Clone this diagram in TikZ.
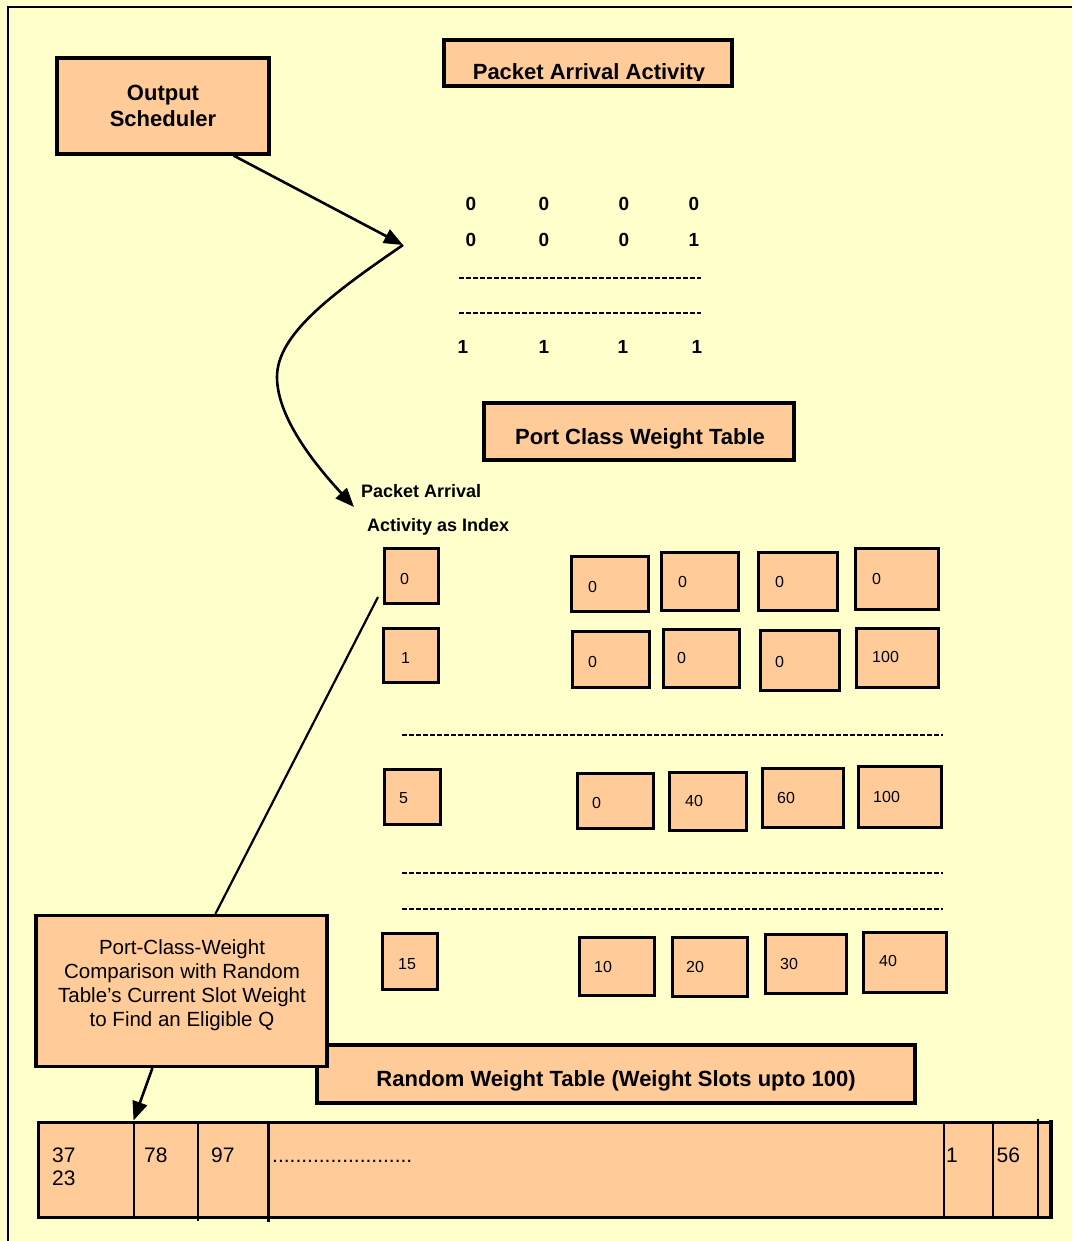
\documentclass[tikz,border=0pt]{standalone}
\usepackage{fontspec}
\setmainfont{Liberation Sans}
\usetikzlibrary{arrows.meta,calc}
\definecolor{bgy}{HTML}{FFFFCC}
\definecolor{peach}{HTML}{FFCC99}
\newcommand\cellbox[8]{%
  \node[cell, minimum width={#4-#2-2.5}, minimum height={#5-#3-2.5}] (#1) at ({(#2+#4)/2},{(#3+#5)/2}) {};
  \node[ctext] (#1t) at (#7,#8) {#6};
}
\begin{document}
\begin{tikzpicture}[x=1pt,y=-1pt,
  box/.style={draw=black, fill=peach, line width=3.2pt, inner sep=0pt},
  cell/.style={draw=black, fill=peach, line width=3pt, inner sep=0pt},
  hdr/.style={font=\fontsize{22}{26.5}\selectfont\bfseries, inner sep=0pt},
  lbl/.style={font=\fontsize{18}{20}\selectfont\bfseries, inner sep=0pt},
  mnum/.style={font=\fontsize{19}{20}\selectfont\bfseries, inner sep=0pt},
  ctext/.style={font=\fontsize{16}{16}\selectfont, inner sep=0pt, anchor=west},
  ttext/.style={font=\fontsize{21}{21}\selectfont, inner sep=0pt, anchor=base west},
  ptext/.style={font=\fontsize{20.5}{24}\selectfont, inner sep=0pt, align=center},
  arr/.style={line width=2.6pt, -{Triangle[length=19pt,width=15pt]}},
  mdash/.style={line width=2.5pt, dash pattern=on 5pt off 2pt},
  ldash/.style={line width=1.5pt, dash pattern=on 5pt off 2pt},
  tline/.style={line width=2.4pt}]
\fill[bgy] (0,0) rectangle (1072,1241);
\useasboundingbox (0,0) rectangle (1072,1241);
\draw[line width=2.5pt] (8,1241) -- (8,7) -- (1072,7);

% headers
\node[box, hdr, align=center, minimum width=212, minimum height=96] (os) at (163,106) {Output\\Scheduler};
\node[box, minimum width=288, minimum height=46] (paa) at (588,63) {};
\begin{scope}
  \clip (445,41) rectangle (731,81);
  \node[hdr, anchor=base] (paat) at (589,79.5) {Packet Arrival Activity};
\end{scope}
\node[box, minimum width=310, minimum height=57] (pcwt) at (639,431.5) {};
\node[hdr, anchor=base] (pcwtt) at (640,444) {Port Class Weight Table};

% matrix
\node[mnum] (m11) at (471,204) {0};
\node[mnum] (m12) at (544,204) {0};
\node[mnum] (m13) at (624,204) {0};
\node[mnum] (m14) at (694,204) {0};
\node[mnum] (m21) at (471,240) {0};
\node[mnum] (m22) at (544,240) {0};
\node[mnum] (m23) at (624,240) {0};
\node[mnum] (m24) at (694,240) {1};
\node[mnum] (m31) at (463,347) {1};
\node[mnum] (m32) at (544,347) {1};
\node[mnum] (m33) at (623,347) {1};
\node[mnum] (m34) at (697,347) {1};
\draw[mdash] (459,278) -- (701,278);
\draw[mdash] (459,313) -- (701,313);

% labels
\node[lbl, anchor=base west] (pa1) at (361,497.5) {Packet Arrival};
\node[lbl, anchor=base west] (pa2) at (367,531.5) {Activity as Index};

% index and weight cells
\cellbox{iA}{383}{547}{440}{605}{0}{400}{579}
\cellbox{iB}{382}{627}{440}{684}{1}{401}{658}
\cellbox{iC}{383}{768}{442}{826}{5}{399}{798}
\cellbox{iD}{381}{932}{439}{991}{15}{398}{964}

\cellbox{wAa}{570}{555}{650}{613}{0}{588}{587}
\cellbox{wAb}{660}{551}{740}{612}{0}{678}{582}
\cellbox{wAc}{757}{551}{839}{612}{0}{775}{582}
\cellbox{wAd}{854}{547}{940}{611}{0}{872}{579}

\cellbox{wBa}{571}{630}{651}{689}{0}{588}{662}
\cellbox{wBb}{662}{628}{741}{689}{0}{677}{658}
\cellbox{wBc}{759}{629}{841}{692}{0}{775}{662}
\cellbox{wBd}{855}{627}{940}{689}{100}{872}{657}

\cellbox{wCa}{576}{772}{655}{830}{0}{592}{803}
\cellbox{wCb}{668}{771}{748}{832}{40}{685}{801}
\cellbox{wCc}{761}{767}{845}{829}{60}{777}{798}
\cellbox{wCd}{857}{765}{943}{829}{100}{873}{797}

\cellbox{wDa}{578}{936}{656}{997}{10}{594}{967}
\cellbox{wDb}{671}{936}{749}{998}{20}{686}{967}
\cellbox{wDc}{764}{933}{848}{995}{30}{780}{964}
\cellbox{wDd}{862}{931}{948}{994}{40}{879}{961}

\draw[ldash] (402,735) -- (943,735);
\draw[ldash] (402,873) -- (943,873);
\draw[ldash] (402,909) -- (943,909);

% random weight table and comparison box
\node[box, minimum width=598, minimum height=58] (rwt) at (616,1074) {};
\node[hdr, anchor=base] (rwtt) at (616,1086) {Random Weight Table (Weight Slots upto 100)};
\node[box, minimum width=291, minimum height=151] (pcw) at (181.5,991) {};
\node[ptext] (pcwtx) at (182,984.7) {Port-Class-Weight\\Comparison with Random\\Table's Current Slot Weight\\to Find an Eligible Q};

% bottom table
\node[cell, minimum width=1013, minimum height=95] (tbl) at (544.5,1169.5) {};
\draw[tline] (134,1121) -- (134,1218);
\draw[tline] (198,1121) -- (198,1221);
\draw[tline] (268.5,1121) -- (268.5,1222);
\draw[tline] (944,1121) -- (944,1218);
\draw[tline] (993,1121) -- (993,1218);
\draw[tline] (1038,1119) -- (1038,1218);
\draw[line width=3.8pt] (1051,1120) -- (1051,1219);
\node[ttext] (t1) at (52,1162) {37};
\node[ttext] (t2) at (52,1185) {23};
\node[ttext] (t3) at (144,1162) {78};
\node[ttext] (t4) at (211,1162) {97};
\node[ttext] (t5) at (272,1162) {........................};
\node[ttext] (t6) at (946,1162) {1};
\node[ttext] (t7) at (996.5,1162) {56};

% connectors
\coordinate (bend) at (403,245);
\coordinate (pai) at (354,507);
\coordinate (ix) at (378,597);
\draw[arr] ($(os.south east)+(-37,0)$) -- (bend);
\draw[arr] (bend) .. controls (330,295) and (277,335) .. (277,377) .. controls (277,420) and (320,470) .. (pai);
\draw[line width=2.2pt] (ix) -- ($(pcw.north west)+(181,0)$);
\draw[arr] ($(pcw.south west)+(118,0)$) -- ($(tbl.north west)+(97,0)$);
\end{tikzpicture}
\end{document}
